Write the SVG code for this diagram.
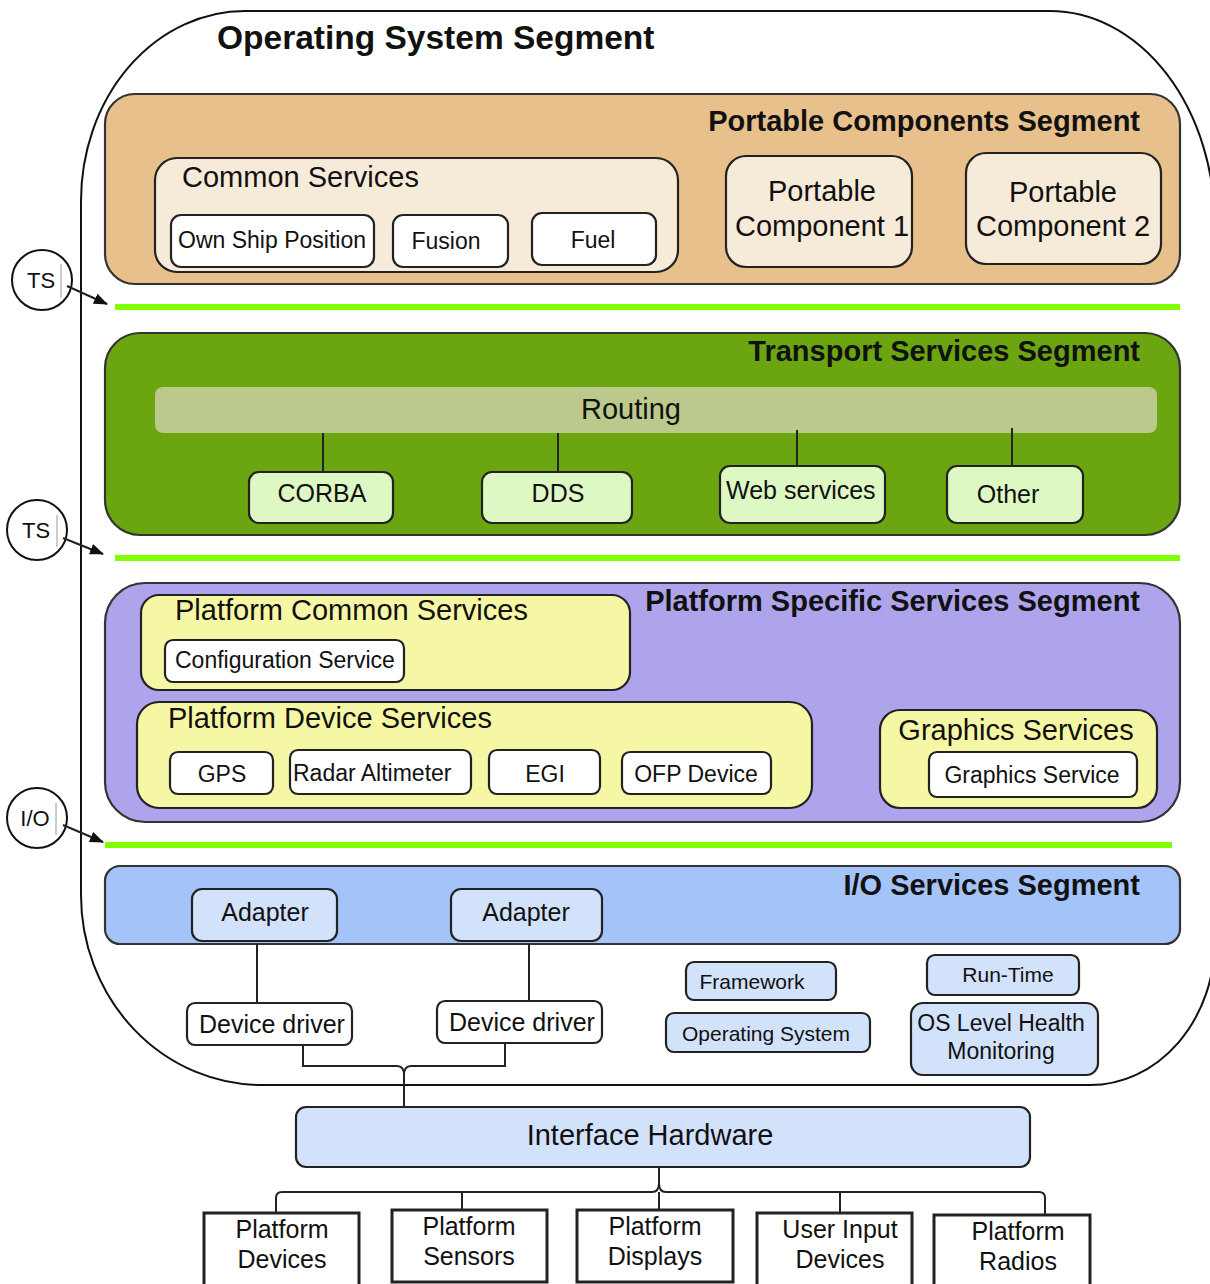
<svg xmlns="http://www.w3.org/2000/svg" width="1210" height="1284" viewBox="0 0 1210 1284">
<defs>
<marker id="ah" markerWidth="14" markerHeight="11" refX="13" refY="5.5" orient="auto" markerUnits="userSpaceOnUse" viewBox="0 0 14 11">
<path d="M0,0 L14,5.5 L0,11 Z" fill="#111"/>
</marker>
<style>
text{font-family:"Liberation Sans",Arial,sans-serif;fill:#111}
.title{font-weight:bold;font-size:29px;text-anchor:end}
.h{font-size:29px}
.m{font-size:23px}
.l{font-size:25px}
.s{font-size:21px}
.c{text-anchor:middle}
.box{stroke:#222;stroke-width:2.2}
.seg{stroke:#333;stroke-width:2.2}
.wire{fill:none;stroke:#222;stroke-width:2}
.gl{stroke:#7fff00;stroke-width:6}
.circ{fill:#fff;stroke:#111;stroke-width:2}
.tick{stroke:#999;stroke-width:1}
.tan{fill:#e8c08c}.cream{fill:#f5ebd8}.white{fill:#fff}
.grn{fill:#6ba50f}.lg{fill:#def8c4}.rt{fill:#bcc98c}
.lav{fill:#ada4ec}.yel{fill:#f6f7a4}
.blu{fill:#a3c3f9}.lb{fill:#d2e2fb}
.hw{fill:#fff;stroke:#222;stroke-width:3}
</style>
</defs>

<g id="os-segment">
<path d="M245 11 H1050 A165 215 0 0 1 1215 226 V940 A125 145 0 0 1 1090 1085 H262 A181 190 0 0 1 81 895 V201 A164 190 0 0 1 245 11 Z" fill="#fff" stroke="#111" stroke-width="2"/>
<text x="217" y="49" style="font-weight:bold;font-size:33.5px">Operating System Segment</text>
</g>

<g id="portable-components-segment">
<rect class="seg tan" x="105" y="94" width="1075" height="190" rx="30"/>
<text class="title" x="1140" y="131">Portable Components Segment</text>
</g>
<g id="common-services">
<rect class="box cream" x="155" y="158" width="523" height="114" rx="22"/>
<text class="h" x="182" y="187">Common Services</text>
</g>
<g id="own-ship-position"><rect class="box white" x="171" y="215" width="203" height="52" rx="10"/><text class="m c" x="272" y="248">Own Ship Position</text></g>
<g id="fusion"><rect class="box white" x="393" y="215" width="115" height="52" rx="10"/><text class="m c" x="446" y="249">Fusion</text></g>
<g id="fuel"><rect class="box white" x="532" y="213" width="124" height="52" rx="10"/><text class="m c" x="593" y="248">Fuel</text></g>
<g id="portable-component-1"><rect class="box cream" x="726" y="156" width="186" height="111" rx="20"/><text class="h c" x="822" y="201">Portable</text><text class="h c" x="822" y="236">Component 1</text></g>
<g id="portable-component-2"><rect class="box cream" x="966" y="153" width="195" height="111" rx="20"/><text class="h c" x="1063" y="202">Portable</text><text class="h c" x="1063" y="236">Component 2</text></g>

<g id="transport-services-segment">
<rect class="seg grn" x="105" y="333" width="1075" height="202" rx="35"/>
<text class="title" x="1140" y="361">Transport Services Segment</text>
</g>
<g id="routing"><rect class="rt" x="155" y="387" width="1002" height="46" rx="8"/><text class="h c" x="631" y="419">Routing</text></g>
<g id="corba"><rect class="box lg" x="249" y="472" width="144" height="51" rx="10"/><text class="l c" x="322" y="502">CORBA</text></g>
<g id="dds"><rect class="box lg" x="482" y="472" width="150" height="51" rx="10"/><text class="l c" x="558" y="502">DDS</text></g>
<g id="web-services"><rect class="box lg" x="720" y="466" width="165" height="57" rx="10"/><text class="l" x="726" y="499">Web services</text></g>
<g id="other"><rect class="box lg" x="947" y="466" width="136" height="57" rx="10"/><text class="l c" x="1008" y="503">Other</text></g>

<g id="platform-specific-services-segment">
<rect class="seg lav" x="105" y="583" width="1075" height="239" rx="40"/>
<text class="title" x="1140" y="611">Platform Specific Services Segment</text>
</g>
<g id="platform-common-services"><rect class="box yel" x="141" y="595" width="489" height="95" rx="18"/><text class="h" x="175" y="620">Platform Common Services</text></g>
<g id="configuration-service"><rect class="box white" x="165" y="640" width="239" height="42" rx="8"/><text class="m" x="175" y="668">Configuration Service</text></g>
<g id="platform-device-services"><rect class="box yel" x="137" y="702" width="675" height="106" rx="22"/><text class="h" x="168" y="728">Platform Device Services</text></g>
<g id="gps"><rect class="box white" x="170" y="752" width="103" height="42" rx="8"/><text class="m c" x="222" y="782">GPS</text></g>
<g id="radar-altimeter"><rect class="box white" x="290" y="750" width="181" height="44" rx="8"/><text class="m" x="293" y="781">Radar Altimeter</text></g>
<g id="egi"><rect class="box white" x="489" y="750" width="111" height="44" rx="8"/><text class="m c" x="545" y="782">EGI</text></g>
<g id="ofp-device"><rect class="box white" x="622" y="752" width="149" height="42" rx="8"/><text class="m c" x="696" y="782">OFP Device</text></g>
<g id="graphics-services"><rect class="box yel" x="880" y="710" width="277" height="98" rx="20"/><text class="h c" x="1016" y="740">Graphics Services</text></g>
<g id="graphics-service"><rect class="box white" x="929" y="752" width="208" height="45" rx="8"/><text class="m c" x="1032" y="783">Graphics Service</text></g>

<g id="io-services-segment">
<rect class="seg blu" x="105" y="866" width="1075" height="78" rx="15"/>
<text class="title" x="1140" y="895">I/O Services Segment</text>
</g>
<g id="adapter-1"><rect class="box lb" x="192" y="889" width="145" height="52" rx="10"/><text class="l c" x="265" y="921">Adapter</text></g>
<g id="adapter-2"><rect class="box lb" x="451" y="889" width="151" height="52" rx="10"/><text class="l c" x="526" y="921">Adapter</text></g>
<g id="device-driver-1"><rect class="box white" x="187" y="1003" width="165" height="42" rx="8"/><text class="l" x="199" y="1033">Device driver</text></g>
<g id="device-driver-2"><rect class="box white" x="437" y="1001" width="165" height="42" rx="8"/><text class="l" x="449" y="1031">Device driver</text></g>
<g id="framework"><rect class="box lb" x="686" y="962" width="150" height="38" rx="8"/><text class="s c" x="752" y="989">Framework</text></g>
<g id="operating-system"><rect class="box lb" x="666" y="1013" width="204" height="39" rx="8"/><text class="s c" x="766" y="1041">Operating System</text></g>
<g id="run-time"><rect class="box lb" x="927" y="955" width="152" height="40" rx="8"/><text class="s c" x="1008" y="982">Run-Time</text></g>
<g id="os-health"><rect class="box lb" x="911" y="1003" width="187" height="72" rx="12"/><text class="m c" x="1001" y="1031">OS Level Health</text><text class="m c" x="1001" y="1059">Monitoring</text></g>

<g id="interface-hardware"><rect class="box lb" x="296" y="1107" width="734" height="60" rx="10"/><text class="h c" x="650" y="1145">Interface Hardware</text></g>

<g id="platform-devices"><rect class="hw" x="204" y="1213" width="155" height="80"/><text class="l c" x="282" y="1238">Platform</text><text class="l c" x="282" y="1268">Devices</text></g>
<g id="platform-sensors"><rect class="hw" x="392" y="1210" width="155" height="72"/><text class="l c" x="469" y="1235">Platform</text><text class="l c" x="469" y="1265">Sensors</text></g>
<g id="platform-displays"><rect class="hw" x="577" y="1210" width="156" height="72"/><text class="l c" x="655" y="1235">Platform</text><text class="l c" x="655" y="1265">Displays</text></g>
<g id="user-input-devices"><rect class="hw" x="757" y="1213" width="155" height="80"/><text class="l c" x="840" y="1238">User Input</text><text class="l c" x="840" y="1268">Devices</text></g>
<g id="platform-radios"><rect class="hw" x="934" y="1215" width="156" height="80"/><text class="l c" x="1018" y="1240">Platform</text><text class="l c" x="1018" y="1270">Radios</text></g>

<g id="markers">
<g id="ts-1"><circle class="circ" cx="42" cy="280" r="30"/><text class="c" x="41" y="288" style="font-size:22px">TS</text><line class="tick" x1="61" y1="264" x2="61" y2="298"/></g>
<g id="ts-2"><circle class="circ" cx="37" cy="530" r="30"/><text class="c" x="36" y="538" style="font-size:22px">TS</text><line class="tick" x1="57" y1="515" x2="57" y2="547"/></g>
<g id="io"><circle class="circ" cx="37" cy="818" r="30"/><text class="c" x="35" y="826" style="font-size:22px">I/O</text><line class="tick" x1="56" y1="803" x2="56" y2="835"/></g>
</g>

<g id="connectors">
<line class="gl" x1="115" y1="307" x2="1180" y2="307"/>
<line class="gl" x1="115" y1="558" x2="1180" y2="558"/>
<line class="gl" x1="105" y1="845" x2="1172" y2="845"/>
<line class="wire" x1="67" y1="286" x2="107" y2="304" marker-end="url(#ah)"/>
<line class="wire" x1="63" y1="538" x2="103" y2="554" marker-end="url(#ah)"/>
<line class="wire" x1="63" y1="825" x2="103" y2="842" marker-end="url(#ah)"/>
<line class="wire" x1="323" y1="433" x2="323" y2="472"/>
<line class="wire" x1="558" y1="433" x2="558" y2="472"/>
<line class="wire" x1="797" y1="430" x2="797" y2="466"/>
<line class="wire" x1="1012" y1="428" x2="1012" y2="466"/>
<line class="wire" x1="257" y1="944" x2="257" y2="1003"/>
<line class="wire" x1="529" y1="944" x2="529" y2="1001"/>
<path class="wire" d="M303 1045 V1066 H397 Q404 1066 404 1075"/>
<path class="wire" d="M505 1043 V1066 H411 Q404 1066 404 1075"/>
<path class="wire" d="M404 1075 V1107"/>
<path class="wire" d="M659 1167 V1183"/>
<path class="wire" d="M276 1213 V1198 Q276 1192 282 1192 H652 Q659 1192 659 1183"/>
<path class="wire" d="M1045 1215 V1198 Q1045 1192 1039 1192 H666 Q659 1192 659 1183"/>
<line class="wire" x1="659" y1="1192" x2="659" y2="1210"/>
<line class="wire" x1="462" y1="1192" x2="462" y2="1210"/>
<line class="wire" x1="840" y1="1192" x2="840" y2="1213"/>
</g>
</svg>
